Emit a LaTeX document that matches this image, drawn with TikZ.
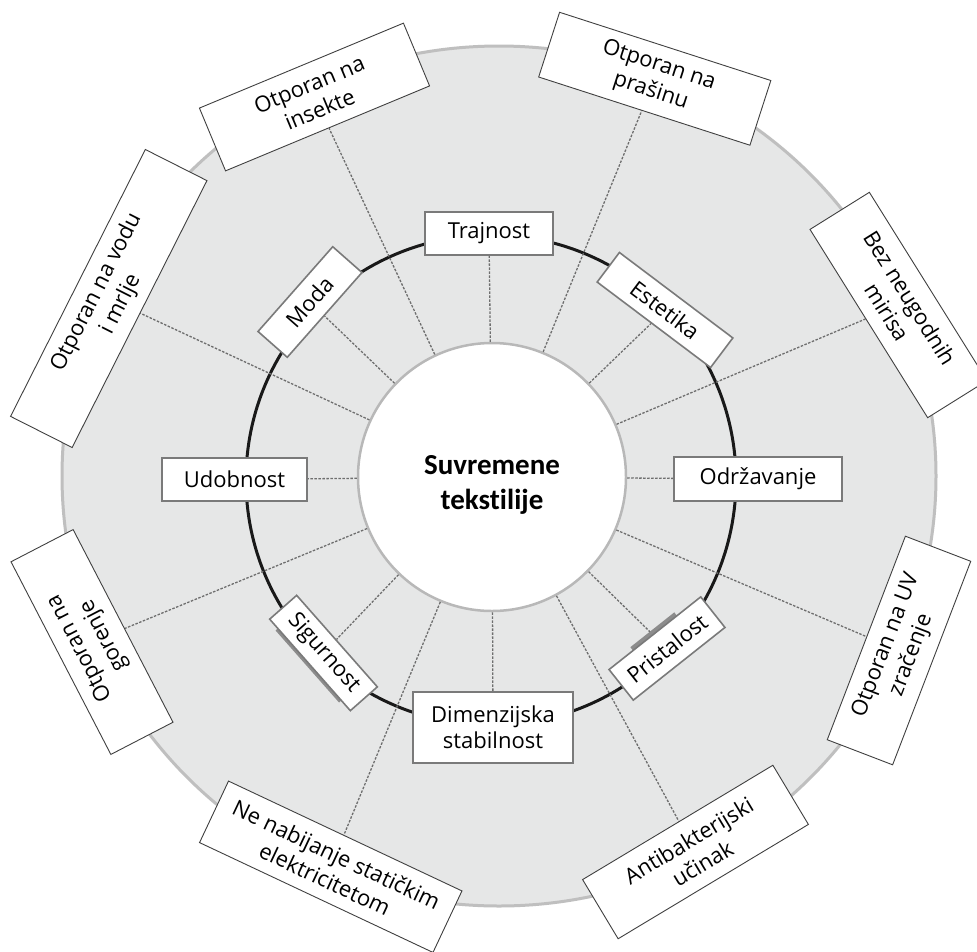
\documentclass[tikz,border=0pt]{standalone}
\usepackage{fontspec}
\setmainfont{Open Sans}
\newfontfamily\titlefont{Carlito}[Ligatures=NoCommon]
\pgfdeclarelayer{back}
\pgfdeclarelayer{lines}
\pgfsetlayers{back,lines,main}
\definecolor{discgray}{HTML}{E6E7E7}
\definecolor{discedge}{HTML}{BFBFBF}
\definecolor{coreedge}{HTML}{B8B8B8}
\definecolor{boxedge}{HTML}{7A7A7A}
\definecolor{dashgray}{HTML}{6E6E6E}
\tikzset{
  outerbox/.style={draw=black!75, line width=0.9pt, fill=white, inner sep=0pt,
    align=center, font=\fontsize{22}{27}\selectfont},
  innerbox/.style={draw=boxedge, line width=1.6pt, fill=white, inner sep=0pt,
    align=center, font=\fontsize{22}{26}\selectfont},
  shadowbox/.style={fill=black!45, draw=none, inner sep=0pt},
  dashline/.style={draw=dashgray, line width=1.3pt, dash pattern=on 2.5pt off 1.5pt},
  titletext/.style={align=center, font=\titlefont\bfseries\fontsize{29}{35}\selectfont}
}
\begin{document}
\begin{tikzpicture}[x=1pt,y=-1pt]
\useasboundingbox (0,0) rectangle (977,951);
\begin{pgfonlayer}{back}
  \fill[white] (0,0) rectangle (977,951);
  \draw[discedge, fill=discgray, line width=3pt] (499,476) ellipse [x radius=437pt, y radius=430pt];
  \node[circle, draw=coreedge, fill=white, line width=2.5pt, minimum size=268pt, inner sep=0pt] (core) at (492,477) {};
  \draw[black!90, line width=3pt] (491,480) circle [radius=245pt];
\end{pgfonlayer}

% shadows
\node[shadowbox, minimum width=96pt, minimum height=36pt, rotate=-48.6] (sigshadow) at (320.8,654.6) {};
\node[shadowbox, minimum width=56pt, minimum height=8pt, rotate=38.4] (prishadow) at (654.8,632.9) {};

% inner boxes
\node[innerbox, minimum width=128pt, minimum height=43pt] (trajnost) at (489,233.5) {Trajnost};
\node[innerbox, minimum width=113pt, minimum height=39pt, rotate=48.6] (moda) at (310,302) {Moda};
\node[innerbox, minimum width=142pt, minimum height=37pt, rotate=-37] (estetika) at (665,310) {Estetika};
\node[innerbox, minimum width=145pt, minimum height=43pt] (udobnost) at (234.5,479.5) {Udobnost};
\node[innerbox, minimum width=168pt, minimum height=44pt] (odrzavanje) at (758,479) {Održavanje};
\node[innerbox, minimum width=122pt, minimum height=36pt, rotate=-48.6] (sigurnost) at (323.5,653) {Sigurnost};
\node[innerbox, minimum width=160pt, minimum height=71pt] (dimenzijska) at (493,727.5) {Dimenzijska\\stabilnost};
\node[innerbox, minimum width=117pt, minimum height=39pt, rotate=38.4] (pristalost) at (667,648.5) {Pristalost};

% outer boxes
\node[outerbox, minimum width=221pt, minimum height=68pt, rotate=22.6] (insekte) at (314.5,97) {Otporan na\\insekte};
\node[outerbox, minimum width=299pt, minimum height=69pt, rotate=63.2] (vodu) at (108.75,298.5) {Otporan na vodu\\i mrlje};
\node[outerbox, minimum width=222pt, minimum height=68pt, rotate=-17.9] (prasinu) at (654.75,78.75) {Otporan na\\prašinu};
\node[outerbox, minimum width=222pt, minimum height=70pt, rotate=-58] (mirisa) at (898.5,305) {Bez neugodnih\\mirisa};
\node[outerbox, minimum width=218pt, minimum height=70pt, rotate=69] (uv) at (899,650.5) {Otporan na UV\\zračenje};
\node[outerbox, minimum width=222pt, minimum height=69pt, rotate=31] (antibak) at (695.5,852) {Antibakterijski\\učinak};
\node[outerbox, minimum width=258pt, minimum height=68pt, rotate=-25.2] (staticki) at (330.75,866.75) {Ne nabijanje statičkim\\elektricitetom};
\node[outerbox, minimum width=217pt, minimum height=70pt, rotate=117.4] (gorenje) at (92,642) {Otporan na\\gorenje};

% title
\node[titletext, text=black] (title) at (492,484.5) {Suvremene\\tekstilije};

\begin{pgfonlayer}{lines}
  \foreach \b in {trajnost,moda,estetika,udobnost,odrzavanje,sigurnost,dimenzijska,pristalost,
                  insekte,vodu,prasinu,mirisa,uv,antibak,staticki,gorenje}
    \draw[dashline] (core) -- (\b);
\end{pgfonlayer}
\end{tikzpicture}
\end{document}
